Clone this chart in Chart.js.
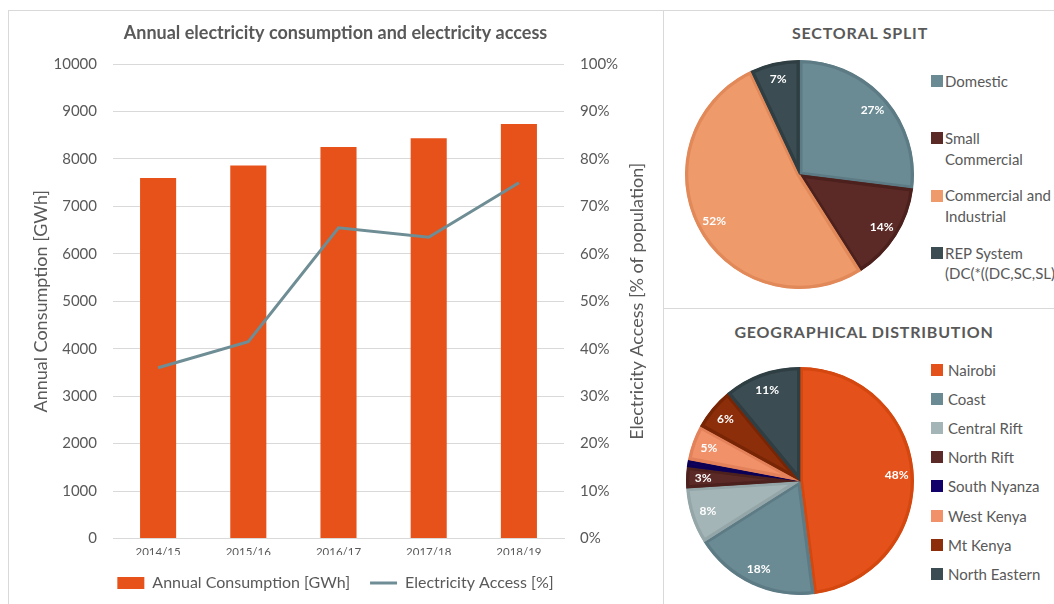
<!DOCTYPE html>
<html>
<head>
<meta charset="utf-8">
<script src="https://cdn.jsdelivr.net/npm/chart.js@4.4.1/dist/chart.umd.min.js"></script>
<style>
  html, body { margin: 0; padding: 0; background: #fff; overflow: hidden; }
  body { width: 1054px; height: 604px; position: relative; font-family: Lato, "Open Sans", sans-serif; color: #595959; }
  .frame { position: absolute; border: 1px solid #d9d9d9; box-sizing: border-box; }
  .abs { position: absolute; }
  .pie-title { position: absolute; text-align: center; font-weight: bold; font-size: 16px; line-height: 20px; letter-spacing: 0.8px; }
  .leg-item { position: absolute; white-space: pre; }
  .leg-sq { position: absolute; width: 12px; height: 12px; }
</style>
</head>
<body>
<div class="frame" style="left:8px; top:10px; width:656px; height:640px;"></div>
<div class="frame" style="left:663px; top:10px; width:420px; height:299px;"></div>
<div class="frame" style="left:663px; top:308px; width:420px; height:340px;"></div>

<canvas id="comboChart" class="abs" width="655" height="591" style="left:8px; top:10px;"></canvas>

<div class="pie-title" style="left:663px; top:23px; width:394px;">SECTORAL SPLIT</div>
<canvas id="sectorPie" class="abs" width="229" height="229" style="left:685px; top:60px;"></canvas>
<div id="sectorLegend"></div>

<div class="pie-title" style="left:663px; top:322px; width:402px;">GEOGRAPHICAL DISTRIBUTION</div>
<canvas id="geoPie" class="abs" width="228" height="228" style="left:686px; top:367px;"></canvas>
<div id="geoLegend"></div>

<script>
// bar + line chart
const years = ["2014/15", "2015/16", "2016/17", "2017/18", "2018/19"];
const consumptionGWh = [7600, 7865, 8250, 8435, 8735];
const accessPct = [36, 41.5, 65.5, 63.5, 75];
const accessTitle = "Electricity Access [% of population]";

// sectoral split
const sectorLabels = ["Domestic", "Small\nCommercial", "Commercial and\nIndustrial", "REP System\n(DC(*((DC,SC,SL))"];
const sectorValues = [27, 14, 52, 7];
const sectorColors = ["#6b8b94", "#5c2a26", "#ef9a6b", "#3b4c52"];
const sectorBorders = ["#5d7b84", "#4b201d", "#e2895a", "#2f3e43"];

// geographical distribution
const geoLabels = ["Nairobi", "Coast", "Central Rift", "North Rift", "South Nyanza", "West Kenya", "Mt Kenya", "North Eastern"];
const geoValues = [48, 18, 8, 3, 1, 5, 6, 11];
const geoColors = ["#e4511a", "#6b8b94", "#a4b5b7", "#5c2a26", "#12006b", "#f0916a", "#8c2e0a", "#3b4c52"];
const geoBorders = ["#d4470f", "#5d7b84", "#94a6a8", "#4b201d", "#0c0055", "#e2815a", "#782505", "#2f3e43"];

const grey = "#595959";
const font = "Lato";

// right axis title reads bottom-to-top like the left one
const rightTitle = {
  id: "rightTitle",
  afterDraw(chart) {
    const s = chart.scales.y1;
    const ctx = chart.ctx;
    ctx.save();
    ctx.translate(s.right - 26, (s.top + s.bottom) / 2);
    ctx.rotate(-Math.PI / 2);
    ctx.font = "18px " + font;
    ctx.fillStyle = grey;
    ctx.textAlign = "center";
    ctx.textBaseline = "middle";
    ctx.fillText(accessTitle, 0, 0);
    ctx.restore();
  }
};

new Chart(document.getElementById("comboChart"), {
  type: "bar",
  data: {
    labels: years,
    datasets: [
      {
        type: "bar",
        label: "Annual Consumption [GWh]",
        data: consumptionGWh,
        backgroundColor: "#e7511a",
        yAxisID: "y",
        order: 2,
        barPercentage: 0.4,
        categoryPercentage: 1,
        pointStyle: "rect"
      },
      {
        type: "line",
        label: "Electricity Access [%]",
        data: accessPct,
        borderColor: "#6e8d95",
        backgroundColor: "#6e8d95",
        borderWidth: 3,
        pointRadius: 0,
        tension: 0,
        yAxisID: "y1",
        order: 1,
        pointStyle: "line"
      }
    ]
  },
  options: {
    responsive: false,
    animation: false,
    layout: { padding: 0 },
    plugins: {
      title: {
        display: true,
        text: "Annual electricity consumption and electricity access",
        color: grey,
        font: { family: font, size: 18, weight: "bold" },
        padding: { top: 12, bottom: 20.5 }
      },
      legend: {
        position: "bottom",
        labels: {
          usePointStyle: true,
          pointStyleWidth: 27,
          boxHeight: 12,
          color: grey,
          font: { family: font, size: 16 },
          padding: 20,
          sort: (a, b) => a.datasetIndex - b.datasetIndex
        }
      },
      tooltip: { enabled: false }
    },
    scales: {
      x: {
        grid: { display: false, drawTicks: false },
        border: { color: "#d9d9d9" },
        ticks: { color: grey, font: { family: font, size: 11.5 }, padding: 7 },
        afterFit: (s) => { s.height = 16.5; }
      },
      y: {
        position: "left",
        min: 0,
        max: 10000,
        ticks: { stepSize: 1000, callback: (v) => String(v), color: grey, font: { family: font, size: 15 }, padding: 16 },
        grid: { color: "#d9d9d9", drawTicks: false },
        border: { display: false },
        title: {
          display: true,
          text: "Annual Consumption [GWh]",
          color: grey,
          font: { family: font, size: 18 },
          padding: { top: 22, bottom: 0 }
        },
        afterFit: (s) => { s.width = 105; }
      },
      y1: {
        position: "right",
        min: 0,
        max: 100,
        ticks: { stepSize: 10, callback: (v) => v + "%", color: grey, font: { family: font, size: 15 }, padding: 16 },
        grid: { display: false, drawTicks: false },
        border: { display: false },
        afterFit: (s) => { s.width = 99; }
      }
    }
  },
  plugins: [rightTitle]
});

// percent labels inside the pie slices
const pctLabels = {
  id: "pctLabels",
  afterDatasetsDraw(chart) {
    const ctx = chart.ctx;
    const values = chart.data.datasets[0].data;
    ctx.save();
    ctx.font = "bold 12px " + font;
    ctx.fillStyle = "#fff";
    ctx.textAlign = "center";
    ctx.textBaseline = "middle";
    chart.getDatasetMeta(0).data.forEach((arc, i) => {
      if (values[i] < 2) return;
      const p = arc.getProps(["x", "y", "startAngle", "endAngle", "outerRadius"], true);
      const mid = (p.startAngle + p.endAngle) / 2;
      const r = p.outerRadius * 0.85;
      ctx.fillText(values[i] + "%", p.x + Math.cos(mid) * r, p.y + Math.sin(mid) * r);
    });
    ctx.restore();
  }
};

function makePie(id, labels, values, colors, borders) {
  new Chart(document.getElementById(id), {
    type: "pie",
    data: {
      labels,
      datasets: [{
        data: values,
        backgroundColor: colors,
        borderColor: borders,
        borderWidth: 3,
        borderAlign: "inner",
        hoverOffset: 0
      }]
    },
    options: {
      responsive: false,
      animation: false,
      layout: { padding: 0 },
      plugins: { legend: { display: false }, tooltip: { enabled: false } }
    },
    plugins: [pctLabels]
  });
}

function makeLegend(id, labels, colors, firstY, step, textLeft, fontSize, lineH) {
  const box = document.getElementById(id);
  labels.forEach((txt, i) => {
    const cy = firstY + i * step;
    const sq = document.createElement("div");
    sq.className = "leg-sq";
    sq.style.left = "931px";
    sq.style.top = (cy - 6) + "px";
    sq.style.background = colors[i];
    box.appendChild(sq);
    const t = document.createElement("div");
    t.className = "leg-item";
    t.style.left = textLeft + "px";
    t.style.top = (cy - lineH / 2) + "px";
    t.style.fontSize = fontSize + "px";
    t.style.lineHeight = lineH + "px";
    t.textContent = txt;
    box.appendChild(t);
  });
}

makePie("sectorPie", sectorLabels, sectorValues, sectorColors, sectorBorders);
makePie("geoPie", geoLabels, geoValues, geoColors, geoBorders);
makeLegend("sectorLegend", sectorLabels, sectorColors, 81, 57.3, 945, 15, 20.5);
makeLegend("geoLegend", geoLabels, geoColors, 369.5, 29.2, 948, 15, 20);
</script>
</body>
</html>
